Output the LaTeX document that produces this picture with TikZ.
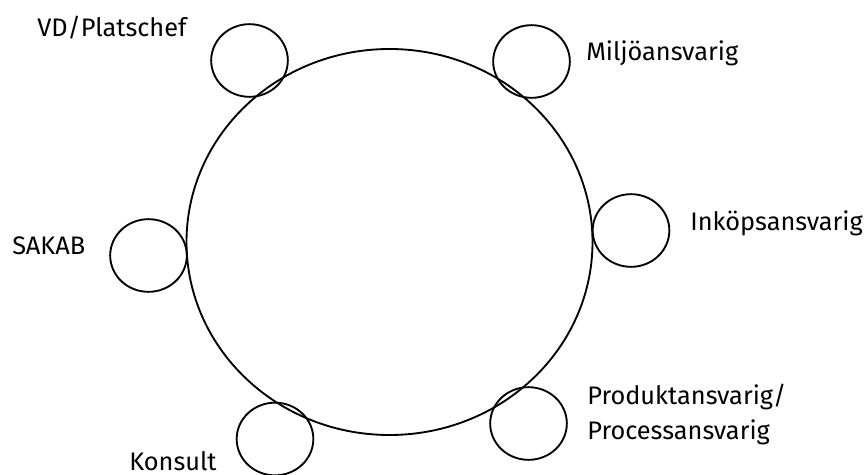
\documentclass[tikz,border=0pt]{standalone}
\usepackage{fontspec}
\setmainfont{Fira Sans}
\usetikzlibrary{shapes.geometric}

\tikzset{
  member/.style={draw, ellipse, line width=1.4pt, inner sep=0pt,
    minimum width=57.5pt, minimum height=54.5pt},
  role/.style={anchor=base west, inner sep=0pt, align=left,
    font=\fontsize{19}{26}\selectfont}
}

\begin{document}
\begin{tikzpicture}[x=0.75pt, y=-0.75pt]
        \useasboundingbox (0,0) rectangle (866,474);
        % team in the middle
        \node[draw, ellipse, line width=1.4pt, inner sep=0pt,
          minimum width=304.5pt, minimum height=289.5pt] (team) at (389.5,242) {};
        % members round it
        \node[member] (vd) at (249.5,60.5) {};
        \node[member] (miljo) at (531.5,61.5) {};
        \node[member] (inkop) at (631,230.5) {};
        \node[member] (sakab) at (148.5,255.5) {};
        \node[member] (konsult) at (275,439) {};
        \node[member] (produkt) at (528.5,423.5) {};
        % labels
        \node[role] (vdtext) at (37,37) {VD/Platschef};
        \node[role] (miljotext) at (586,61) {Miljöansvarig};
        \node[role] (inkoptext) at (690,230) {Inköpsansvarig};
        \node[role] (sakabtext) at (12,254) {SAKAB};
        \node[role] (konsulttext) at (129,470) {Konsult};
        \node[role] (produkttext) at (587,439) {Produktansvarig/\\Processansvarig};
    \end{tikzpicture}
\end{document}
